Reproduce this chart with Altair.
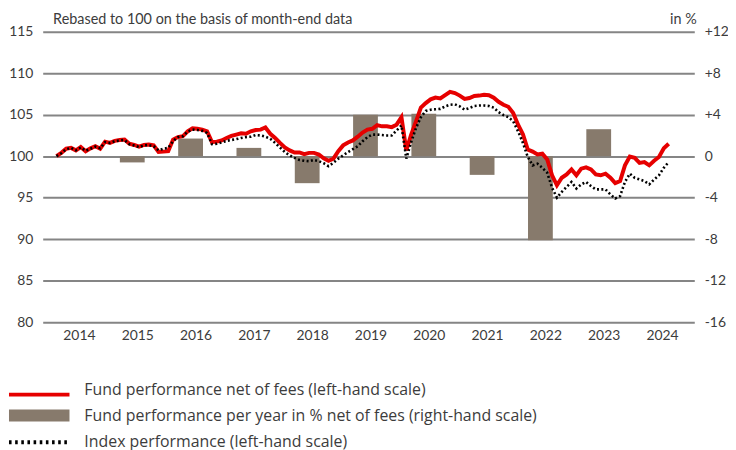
import altair as alt
import pandas as pd

# ---------------- data ----------------
start_year = 2014.115  # position of the first month-end point (fractional year)

fund = [
    100.0, 100.4, 100.9, 101.0, 100.7, 101.1, 100.6, 100.95, 101.2, 100.9,
    101.75, 101.6, 101.85, 101.95, 102.0, 101.5, 101.35, 101.15, 101.35, 101.4,
    101.3, 100.5, 100.55, 100.6, 102.0, 102.3, 102.4, 103.0, 103.35, 103.3,
    103.2, 103.0, 101.7, 101.75, 101.9, 102.2, 102.45, 102.6, 102.75, 102.7,
    103.0, 103.15, 103.2, 103.45, 102.7, 102.2, 101.6, 101.05, 100.7, 100.45,
    100.45, 100.25, 100.4, 100.4, 100.2, 99.75, 99.45, 99.7, 100.6, 101.3,
    101.65, 101.9, 102.35, 102.85, 103.2, 103.3, 103.75, 103.6, 103.6, 103.5,
    103.8, 104.7, 100.7, 102.6, 104.2, 105.85, 106.4, 106.85, 107.05, 106.95,
    107.35, 107.75, 107.6, 107.3, 106.9, 107.0, 107.25, 107.3, 107.4, 107.35,
    107.05, 106.55, 106.2, 105.95, 105.2, 103.8, 102.65, 100.8, 100.55, 100.2,
    100.3, 99.6, 97.7, 96.5, 97.4, 97.8, 98.4, 97.7, 98.5, 98.65,
    98.4, 97.8, 97.7, 97.9, 97.4, 96.75, 97.0, 98.9, 99.95, 99.8,
    99.2, 99.3, 98.9, 99.45, 99.9, 100.95, 101.5,
]

index = [
    100.0, 100.35, 100.85, 101.0, 100.7, 101.05, 100.65, 100.9, 101.15, 100.95,
    101.7, 101.6, 101.8, 101.9, 101.95, 101.45, 101.3, 101.1, 101.3, 101.35,
    101.2, 100.7, 100.9, 101.0, 101.8, 102.3, 102.4, 102.95, 103.2, 103.15,
    103.05, 102.8, 101.45, 101.5, 101.65, 101.85, 101.95, 102.05, 102.2, 102.3,
    102.35, 102.55, 102.5, 102.35, 102.1, 101.6, 101.05, 100.5, 100.1, 99.8,
    99.55, 99.45, 99.4, 99.55, 99.4, 99.15, 98.8, 99.2, 99.7, 100.1,
    100.5, 100.85, 101.2, 101.8, 102.3, 102.6, 102.6, 102.55, 102.5, 102.5,
    103.1, 103.7, 99.7, 101.7, 103.4, 104.7, 105.45, 105.6, 105.65, 105.7,
    106.0, 106.2, 106.25, 106.0, 105.6, 105.8, 106.05, 106.1, 106.1, 106.05,
    105.85, 105.3, 104.95, 104.7, 104.2, 103.0, 101.6, 99.9, 98.9, 99.1,
    98.6, 98.0, 96.2, 95.0, 95.7, 96.3, 96.9, 96.1, 96.6, 96.9,
    96.4, 96.0, 96.0, 96.0, 95.4, 94.9, 95.2, 96.9, 97.9, 97.4,
    97.2, 97.0, 96.6, 97.2, 97.7, 98.6, 99.3,
]

bar_years = [2015, 2016, 2017, 2018, 2019, 2020, 2021, 2022, 2023]
bar_values = [-0.6, 1.7, 0.8, -2.6, 4.0, 4.1, -1.8, -8.1, 2.6]

year_labels = [2014, 2015, 2016, 2017, 2018, 2019, 2020, 2021, 2022, 2023, 2024]
left_ticks = [80, 85, 90, 95, 100, 105, 110, 115]
right_ticks = [-16, -12, -8, -4, 0, 4, 8, 12]

legend_labels = [
    "Fund performance net of fees (left-hand scale)",
    "Fund performance per year in % net of fees (right-hand scale)",
    "Index performance (left-hand scale)",
]

# ---------------- tables ----------------
t = [start_year + k / 12 for k in range(len(fund))]
fund_df = pd.DataFrame({"t": t, "value": fund})
index_df = pd.DataFrame({"t": t, "value": index})
bar_df = pd.DataFrame({"t": [y + 0.415 for y in bar_years], "value": bar_values})

FONT = "Lato"
LEG_FONT = "Open Sans"
TXT = "#3c3c3c"
RED = "#e60000"
BROWN = "#877a6c"
GRID = "#858585"

xscale = alt.Scale(domain=[2013.964, 2024.969], nice=False, zero=False)
xaxis = alt.Axis(
    values=[y + 0.5 for y in year_labels],
    labelExpr="'' + floor(datum.value)",
    grid=False, ticks=False, domain=False, labelPadding=6,
    labelFontSize=14, labelColor=TXT, labelFont=FONT, title=None,
)

left_axis = alt.Axis(
    values=left_ticks, grid=True, gridColor=GRID, gridWidth=2,
    ticks=False, domain=False, labelPadding=10, labelFontSize=14,
    labelColor=TXT, labelFont=FONT,
    title="Rebased to 100 on the basis of month-end data",
    titleAngle=0, titleX=10, titleY=-8, titleAlign="left",
    titleBaseline="alphabetic", titleFontWeight="normal", titleFontSize=14.5,
    titleColor=TXT, titleFont=FONT,
)
right_axis = alt.Axis(
    orient="right", values=right_ticks, grid=False, ticks=False, domain=False,
    labelPadding=10, labelFontSize=14, labelColor=TXT, labelFont=FONT,
    labelExpr="datum.value > 0 ? '+' + datum.value : '' + datum.value",
    title="in %", titleAngle=0, titleX=2, titleY=-8, titleAlign="right",
    titleBaseline="alphabetic", titleFontWeight="normal", titleFontSize=14.5,
    titleColor=TXT, titleFont=FONT,
)

lscale = alt.Scale(domain=[80, 115], nice=False, zero=False)

bars = alt.Chart(bar_df).mark_bar(size=25, color=BROWN).encode(
    x=alt.X("t:Q", scale=xscale, axis=xaxis),
    y=alt.Y("value:Q", scale=alt.Scale(domain=[-16, 12], nice=False), axis=right_axis),
    y2=alt.datum(0),
)

red_line = alt.Chart(fund_df).mark_line(color=RED, strokeWidth=4).encode(
    x=alt.X("t:Q", scale=xscale, axis=xaxis),
    y=alt.Y("value:Q", scale=lscale, axis=left_axis),
)
dot_line = alt.Chart(index_df).mark_line(
    color="#000000", strokeWidth=2.6, strokeDash=[2, 2.4]
).encode(
    x=alt.X("t:Q", scale=xscale, axis=xaxis),
    y=alt.Y("value:Q", scale=lscale, axis=left_axis),
)
lines = alt.layer(red_line, dot_line)

# ---------------- legend (drawn below the plot) ----------------
leg_df = pd.DataFrame({"label": legend_labels})
one = pd.DataFrame({"k": [0]})

leg_red = alt.Chart(one).mark_rule(color=RED, strokeWidth=4).encode(
    x=alt.value(-34), x2=alt.value(27), y=alt.value(366)
)
leg_bar = alt.Chart(one).mark_rect(color=BROWN).encode(
    x=alt.value(-34), x2=alt.value(27), y=alt.value(381), y2=alt.value(393)
)
leg_dot = alt.Chart(one).mark_rule(color="#000000", strokeWidth=4, strokeDash=[2.6, 3.6]).encode(
    x=alt.value(-34), x2=alt.value(27), y=alt.value(414)
)
leg_texts = [
    alt.Chart(leg_df.iloc[[i]]).mark_text(
        align="left", baseline="alphabetic", fontSize=16, font=LEG_FONT, color=TXT
    ).encode(x=alt.value(42), y=alt.value(yy), text="label:N")
    for i, yy in enumerate([366, 393, 419])
]

chart = alt.layer(
    bars, lines, leg_red, leg_bar, leg_dot, *leg_texts
).resolve_scale(y="independent").properties(
    width=657, height=293,
    autosize=alt.AutoSizeParams(type="none"),
    padding={"left": 35, "top": 22, "right": 34, "bottom": 130},
).configure_view(stroke=None)

chart.save("out.html", embed_options={"renderer": "svg", "actions": False})
